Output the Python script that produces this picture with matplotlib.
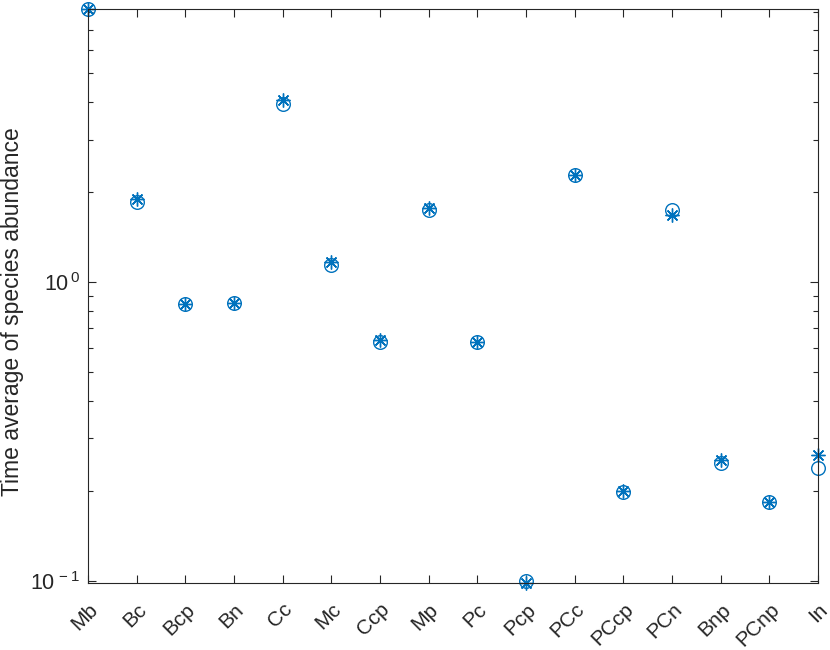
import matplotlib
matplotlib.use("Agg")
import matplotlib.pyplot as plt
import matplotlib.transforms as mtransforms
import numpy as np
from matplotlib.ticker import LogLocator, FixedLocator, NullFormatter

plt.rcParams['font.family'] = ['Liberation Sans', 'DejaVu Sans']
plt.rcParams['mathtext.fontset'] = 'custom'
plt.rcParams['mathtext.rm'] = 'Liberation Sans'
plt.rcParams['mathtext.it'] = 'Liberation Sans:italic'
plt.rcParams['mathtext.bf'] = 'Liberation Sans:bold'

species = ['Mb', 'Bc', 'Bcp', 'Bn', 'Cc', 'Mc', 'Ccp', 'Mp', 'Pc', 'Pcp',
           'PCc', 'PCcp', 'PCn', 'Bnp', 'PCnp', 'In']
circle_vals = [8.2, 1.86, 0.842, 0.85, 3.94, 1.144, 0.628, 1.74, 0.628, 0.1002,
               2.28, 0.199, 1.748, 0.248, 0.184, 0.238]
star_vals = [8.2, 1.89, 0.842, 0.85, 4.06, 1.167, 0.641, 1.765, 0.63, 0.0988,
             2.28, 0.200, 1.682, 0.253, 0.184, 0.263]

color = '#0072BD'
axcol = '#262626'

fig = plt.figure(figsize=(8.3, 6.5), dpi=100)
ax = fig.add_axes([88/830, 1-582.5/650, (818-88)/830, (582.5-9)/650])

x = np.arange(1, len(species)+1)
ax.plot(x, circle_vals, linestyle='none', marker='o', markersize=9.8,
        markerfacecolor='none', markeredgecolor=color, markeredgewidth=1.0, clip_on=False)
ax.plot(x, star_vals, linestyle='none', marker=(8, 2, 0), markersize=10,
        markeredgecolor=color, markeredgewidth=1.0, clip_on=False)

ax.set_yscale('log')
ax.set_xlim(1, len(species))
allv = circle_vals + star_vals
ax.set_ylim(min(allv), max(allv))

ax.set_xticks(x)
ax.set_xticklabels(species, rotation=45, ha='right', va='top',
                   rotation_mode='anchor', fontsize=15, color=axcol)
shift = mtransforms.ScaledTranslation(4/100, 0, fig.dpi_scale_trans)
for lab in ax.get_xticklabels():
    lab.set_transform(lab.get_transform() + shift)
ax.yaxis.set_major_locator(FixedLocator([0.1, 1.0]))
ax.set_yticklabels([r'$10^{\,-1}$', r'$10^{\,0}$'], fontsize=15.5, color=axcol)
ax.yaxis.set_minor_locator(LogLocator(base=10, subs=np.arange(2, 10)))
ax.yaxis.set_minor_formatter(NullFormatter())

ax.tick_params(axis='both', which='both', direction='in', top=True, right=True,
               color=axcol, width=0.8)
ax.tick_params(axis='both', which='major', length=6)
ax.tick_params(axis='y', which='minor', length=3.5)
ax.tick_params(axis='x', which='major', pad=12.5)
ax.tick_params(axis='y', which='major', pad=6)
for s in ax.spines.values():
    s.set_color(axcol)
    s.set_linewidth(0.8)

ax.set_ylabel('Time average of species abundance', fontsize=16.5, color=axcol)
ax.yaxis.set_label_coords(-0.087, 0.4717)

fig.savefig('out.png', dpi=100)
